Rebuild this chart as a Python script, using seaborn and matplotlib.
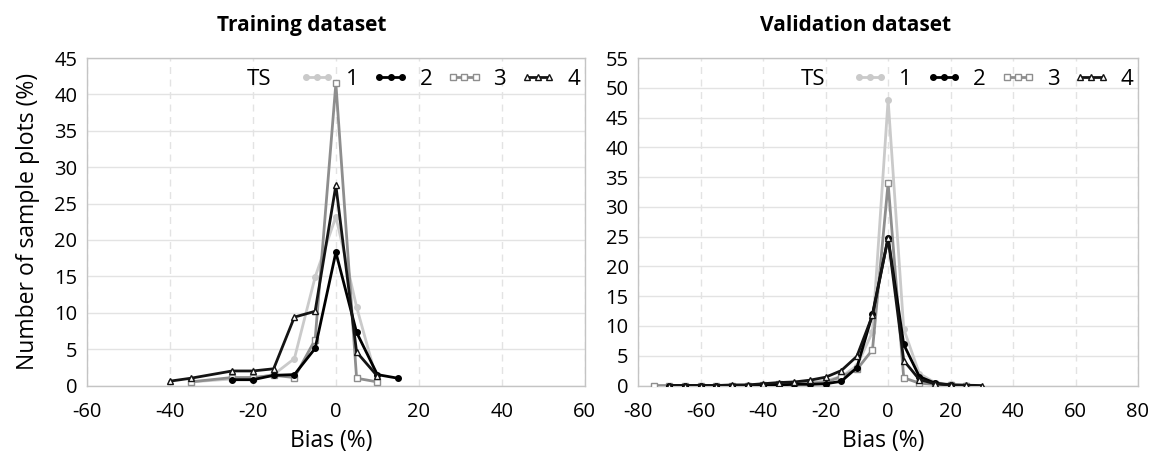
import numpy as np
import pandas as pd
import seaborn as sns
import matplotlib

matplotlib.use('Agg')
import matplotlib.pyplot as plt

# training dataset: bias (%) and share of sample plots (%) for each TS
train_x_ts1 = [-35, -25, -20, -15, -10, -5, 0, 5, 10]
train_y_ts1 = [0.5, 0.9, 1.0, 1.5, 3.7, 14.9, 23.2, 10.8, 0.5]
train_x_ts2 = [-25, -20, -15, -10, -5, 0, 5, 10, 15]
train_y_ts2 = [0.8, 0.8, 1.4, 1.5, 5.1, 18.3, 7.3, 1.5, 1.0]
train_x_ts3 = [-35, -25, -20, -15, -10, -5, 0, 5, 10]
train_y_ts3 = [0.5, 1.1, 1.1, 1.4, 1.1, 6.3, 41.5, 1.0, 0.5]
train_x_ts4 = [-40, -35, -25, -20, -15, -10, -5, 0, 5, 10]
train_y_ts4 = [0.6, 1.0, 2.0, 2.0, 2.3, 9.4, 10.2, 27.5, 4.6, 1.3]

# validation dataset
val_x_ts1 = [-70, -65, -60, -55, -50, -45, -40, -35, -30, -25, -20, -15, -10, -5, 0, 5, 10, 15, 20, 25]
val_y_ts1 = [0.0, 0.0, 0.0, 0.0, 0.0, 0.1, 0.1, 0.2, 0.3, 0.5, 0.8, 1.5, 3.3, 9.0, 48.0, 9.5, 2.0, 0.5, 0.2, 0.1]
val_x_ts2 = [-70, -65, -60, -55, -50, -45, -40, -35, -30, -25, -20, -15, -10, -5, 0, 5, 10, 15, 20]
val_y_ts2 = [0.0, 0.0, 0.0, 0.0, 0.0, 0.0, 0.1, 0.1, 0.2, 0.2, 0.3, 0.7, 3.0, 12.0, 24.8, 6.9, 1.5, 0.4, 0.1]
val_x_ts3 = [-75, -70, -65, -60, -55, -50, -45, -40, -35, -30, -25, -20, -15, -10, -5, 0, 5, 10, 15, 20, 25]
val_y_ts3 = [0.0, 0.0, 0.0, 0.0, 0.0, 0.0, 0.0, 0.1, 0.2, 0.3, 0.4, 0.5, 1.5, 2.7, 6.0, 34.0, 1.3, 0.4, 0.2, 0.1, 0.0]
val_x_ts4 = [-70, -65, -60, -55, -50, -45, -40, -35, -30, -25, -20, -15, -10, -5, 0, 5, 10, 15, 20, 25, 30]
val_y_ts4 = [0.0, 0.0, 0.0, 0.0, 0.1, 0.1, 0.3, 0.5, 0.6, 0.9, 1.4, 2.5, 4.9, 11.8, 24.8, 4.2, 1.0, 0.3, 0.1, 0.05, 0.0]

ts_labels = ["1", "2", "3", "4"]


def long_df(xs, ys):
    parts = []
    for lab, x, y in zip(ts_labels, xs, ys):
        parts.append(pd.DataFrame({"bias": x, "share": y, "TS": lab}))
    return pd.concat(parts, ignore_index=True)


df_train = long_df([train_x_ts1, train_x_ts2, train_x_ts3, train_x_ts4],
                   [train_y_ts1, train_y_ts2, train_y_ts3, train_y_ts4])
df_val = long_df([val_x_ts1, val_x_ts2, val_x_ts3, val_x_ts4],
                 [val_y_ts1, val_y_ts2, val_y_ts3, val_y_ts4])

sns.set_style("white")
plt.rcParams['font.family'] = ['Open Sans', 'DejaVu Sans']
plt.rcParams['axes.unicode_minus'] = False
plt.rcParams['text.color'] = 'black'
plt.rcParams['axes.labelcolor'] = 'black'
plt.rcParams['xtick.color'] = 'black'
plt.rcParams['ytick.color'] = 'black'

palette = {"1": "#cacaca", "2": "#000000", "3": "#8e8e8e", "4": "#141414"}
markers = {"1": "o", "2": "o", "3": "s", "4": "^"}
# light ones first so the black lines sit on top
order = ["1", "3", "2", "4"]

fig = plt.figure(figsize=(11.51, 4.55), dpi=100)
ax1 = fig.add_axes([0.0756, 0.1527, 0.4324, 0.7198])
ax2 = fig.add_axes([0.5545, 0.1527, 0.4342, 0.7198])


def draw(ax, df, xlim, ylim):
    for lab in order:
        sub = df[df["TS"] == lab]
        mfc = "white" if lab in ("3", "4") else palette[lab]
        sns.lineplot(data=sub, x="bias", y="share", ax=ax, color=palette[lab],
                     marker=markers[lab], markersize=4, markerfacecolor=mfc,
                     markeredgecolor=palette[lab], markeredgewidth=1.0,
                     linewidth=2.0, label=lab, legend=False, zorder=3)
    ax.set_xlim(*xlim)
    ax.set_ylim(*ylim)
    ax.set_xticks(np.arange(xlim[0], xlim[1] + 1, 20))
    ax.set_yticks(np.arange(0, ylim[1] + 1, 5))
    ax.grid(axis="y", color="#e3e3e3", linewidth=1.0, zorder=0)
    ax.grid(axis="x", color="#e3e3e3", linewidth=1.0, linestyle=(0, (5, 4)), zorder=0)
    ax.set_axisbelow(True)
    for sp in ax.spines.values():
        sp.set_color("#c4c4c4")
        sp.set_linewidth(1.0)
    ax.tick_params(length=0, labelsize=14.5, labelcolor="black")
    ax.tick_params(axis="x", pad=12)
    ax.tick_params(axis="y", pad=7)
    ax.set_xlabel("Bias (%)", fontsize=16.5, va="center", color="black")
    ax.xaxis.set_label_coords(0.49, -0.168)
    ax.set_ylabel("")
    handles, labels = ax.get_legend_handles_labels()
    lookup = dict(zip(labels, handles))
    leg = ax.legend([lookup[k] for k in ts_labels], ts_labels, ncol=4, loc="upper right",
                    frameon=False, fontsize=16, handlelength=1.6, handletextpad=0.5,
                    columnspacing=0.65, borderaxespad=0.0, numpoints=3,
                    bbox_to_anchor=(1.008, 0.995), labelcolor="black")
    return leg


leg1 = draw(ax1, df_train, (-60, 60), (0, 45))
leg2 = draw(ax2, df_val, (-80, 80), (0, 55))

ax1.set_ylabel("Number of sample plots (%)", fontsize=16.5, labelpad=10, color="black")

# "TS" sits just left of each legend, on the same line
fig.canvas.draw()
inv = fig.transFigure.inverted()
for leg in (leg1, leg2):
    bb = leg.get_window_extent()
    x0, y0 = inv.transform((bb.x0, bb.y0))
    x1, y1 = inv.transform((bb.x1, bb.y1))
    fig.text(x0 - 0.016, (y0 + y1) / 2, "TS", fontsize=16, ha="right", va="center", color="black")

fig.text(0.262, 0.945, "Training dataset", fontsize=15, fontweight="bold", ha="center", va="center", color="black")
fig.text(0.743, 0.945, "Validation dataset", fontsize=15, fontweight="bold", ha="center", va="center", color="black")

fig.savefig("out.png", dpi=100)
